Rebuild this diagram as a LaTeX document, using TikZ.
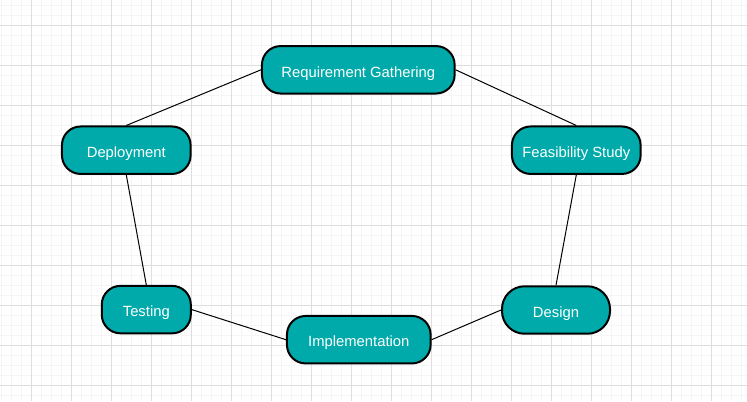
\documentclass[tikz,border=0pt]{standalone}
\usepackage{fontspec}
\setmainfont{Liberation Sans}
\definecolor{phasefill}{RGB}{0,170,170}
\definecolor{majorgrid}{RGB}{222,222,222}
\definecolor{minorgrid}{RGB}{245,245,245}
\begin{document}
\begin{tikzpicture}[x=0.75pt,y=-0.75pt,
	phase/.style={draw=black,line width=1.5pt,fill=phasefill,text=white,rounded corners=14pt,minimum height=35.6pt,inner sep=0pt,text height=10.9pt,text depth=0pt,font=\fontsize{11.1}{13}\selectfont},
	link/.style={line width=0.75pt}]
			\useasboundingbox (0,0) rectangle (747,401);
			\fill[white] (0,0) rectangle (747,401);
			% minor grid, then major grid
			\foreach \i in {0,...,74} \draw[color=minorgrid,line width=0.75pt] ({1.5+10*\i},0) -- ({1.5+10*\i},401);
			\foreach \j in {0,...,39} \draw[color=minorgrid,line width=0.75pt] (0,{5.5+10*\j}) -- (747,{5.5+10*\j});
			\foreach \i in {0,...,17} \draw[color=majorgrid,line width=0.75pt] ({31.5+40*\i},0) -- ({31.5+40*\i},401);
			\foreach \j in {0,...,9} \draw[color=majorgrid,line width=0.75pt] (0,{25.5+40*\j}) -- (747,{25.5+40*\j});
			% phases
			\node[phase,minimum width=144.5pt] (req) at (358.3,69.8) {Requirement Gathering};
			\node[phase,minimum width=96.5pt] (feas) at (576.3,150.2) {Feasibility Study};
			\node[phase,minimum width=81pt,rounded corners=17pt] (design) at (556,310) {Design};
			\node[phase,minimum width=107.75pt] (impl) at (358.8,339.7) {Implementation};
			\node[phase,minimum width=66.75pt] (test) at (146.3,309.6) {Testing};
			\node[phase,minimum width=96.5pt] (dep) at (126.3,150.2) {Deployment};
			% links
			\draw[link] (req.east) -- (feas.north);
			\draw[link] (feas.south) -- (design.north);
			\draw[link] (design.west) -- (impl.east);
			\draw[link] (impl.west) -- (test.east);
			\draw[link] (test.north) -- (dep.south);
			\draw[link] (dep.north) -- (req.west);
\end{tikzpicture}
\end{document}
